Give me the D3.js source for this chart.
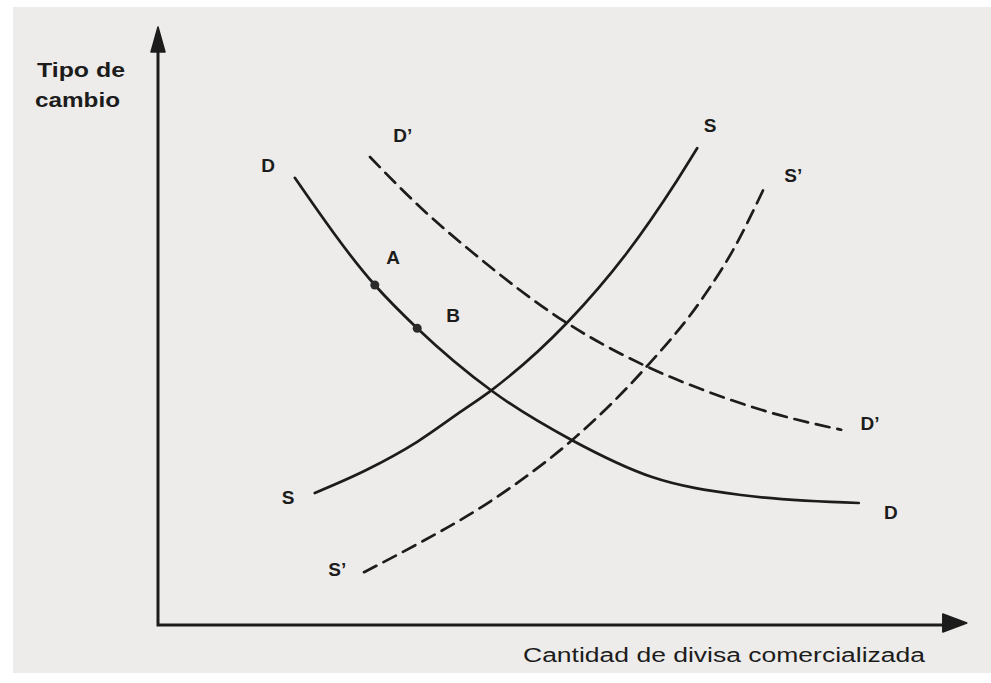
<!DOCTYPE html>
<html>
<head>
<meta charset="utf-8">
<script src="https://cdn.jsdelivr.net/npm/d3@7"></script>
<style>
  html, body { margin: 0; padding: 0; background: #fff; }
  svg { display: block; }
</style>
</head>
<body>
<div id="chart"></div>
<script>
// curves, x = cantidad, y = tipo de cambio (arbitrary units)
const demandD = [[17.1, 55.9], [27.1, 42.5], [32.4, 37.1], [41.75, 29.25], [51.75, 23.1], [61.75, 18.5], [72.9, 16.25], [87.6, 15.25]];
const demandD2 = [[26.5, 58.5], [32.75, 52.25], [39.4, 46.5], [51.1, 37.75], [60.9, 32.4], [68.1, 29.4], [76.75, 26.5], [85.4, 24.4]];
const supplyS = [[19.6, 16.5], [26.1, 19.4], [32.4, 22.9], [37.75, 26.6], [41.75, 29.4], [51.1, 37.75], [58.6, 46.5], [64.9, 55.6], [67.4, 59.6]];
const supplyS2 = [[25.75, 6.6], [32.4, 10.1], [38.6, 13.6], [44.4, 17.4], [51.75, 23.1], [60.9, 32.1], [68.1, 40.9], [71.9, 46.9], [75.9, 54.9]];

const points = [
  {name: "A", x: 27.1, y: 42.5},
  {name: "B", x: 32.4, y: 37.1}
];

const labels = [
  {text: "D", x: 13.75, y: 57.5},
  {text: "D\u2019", x: 30.6, y: 61.25},
  {text: "S", x: 69, y: 62.5},
  {text: "S\u2019", x: 79.4, y: 56.25},
  {text: "A", x: 29.4, y: 46},
  {text: "B", x: 36.9, y: 38.75},
  {text: "D\u2019", x: 89, y: 25.25},
  {text: "D", x: 91.6, y: 14.1},
  {text: "S", x: 16.25, y: 15.9},
  {text: "S\u2019", x: 22.4, y: 6.9}
];

const yTitle = ["Tipo de", "cambio"];
const xTitle = "Cantidad de divisa comercializada";

const width = 991;
const height = 683;

const svg = d3.select("#chart").append("svg")
  .attr("width", width)
  .attr("height", height)
  .attr("viewBox", [0, 0, width, height]);

// paper
svg.append("rect")
  .attr("x", 13).attr("y", 7)
  .attr("width", width - 13).attr("height", 666)
  .attr("fill", "#edecea");

const x = d3.scaleLinear().domain([0, 100]).range([158, 958]);
const y = d3.scaleLinear().domain([0, 75]).range([625, 25]);

const ink = "#1c1c1c";
const xEnd = 101.1, yEnd = 74.75;

// axes
svg.append("path")
  .attr("fill", "none")
  .attr("stroke", ink)
  .attr("stroke-width", 3)
  .attr("stroke-linejoin", "miter")
  .attr("d", `M${x(0)},${y(yEnd) + 10}V${y(0)}H${x(xEnd) - 10}`);

svg.append("path")
  .attr("fill", ink)
  .attr("stroke", ink)
  .attr("stroke-width", 1.5)
  .attr("stroke-linejoin", "round")
  .attr("d", `M${x(0)},${y(yEnd)}L${x(0) + 7},${y(yEnd) + 25}L${x(0) - 7},${y(yEnd) + 25}Z`);

svg.append("path")
  .attr("fill", ink)
  .attr("stroke", ink)
  .attr("stroke-width", 1.5)
  .attr("stroke-linejoin", "round")
  .attr("d", `M${x(xEnd)},${y(0) - 2}L${x(xEnd) - 24},${y(0) - 11}L${x(xEnd) - 24},${y(0) + 7}Z`);

const line = d3.line()
  .curve(d3.curveMonotoneX)
  .x(d => x(d[0]))
  .y(d => y(d[1]));

const curves = [
  {data: demandD, dash: null},
  {data: supplyS, dash: null},
  {data: demandD2, dash: "14,8"},
  {data: supplyS2, dash: "14,8"}
];

svg.append("g")
  .selectAll("path")
  .data(curves)
  .join("path")
    .attr("fill", "none")
    .attr("stroke", ink)
    .attr("stroke-width", 2.7)
    .attr("stroke-linecap", "round")
    .attr("stroke-dasharray", d => d.dash)
    .attr("d", d => line(d.data));

svg.append("g")
  .selectAll("circle")
  .data(points)
  .join("circle")
    .attr("cx", d => x(d.x))
    .attr("cy", d => y(d.y))
    .attr("r", 4.5)
    .attr("fill", "#2a2a2a");

svg.append("g")
  .attr("font-family", "Liberation Sans, Arial, sans-serif")
  .attr("font-weight", "bold")
  .attr("font-size", 19)
  .attr("fill", ink)
  .selectAll("text")
  .data(labels)
  .join("text")
    .attr("x", d => x(d.x))
    .attr("y", d => y(d.y))
    .attr("text-anchor", "middle")
    .attr("dominant-baseline", "central")
    .text(d => d.text);

svg.append("g")
  .attr("font-family", "Liberation Sans, Arial, sans-serif")
  .attr("font-weight", "bold")
  .attr("font-size", 20)
  .attr("fill", ink)
  .selectAll("text")
  .data(yTitle)
  .join("text")
    .attr("x", (d, i) => 37 - i * 2)
    .attr("y", (d, i) => 77 + i * 30)
    .attr("textLength", (d, i) => i ? 85 : 88)
    .attr("lengthAdjust", "spacingAndGlyphs")
    .text(d => d);

svg.append("text")
  .attr("x", 523)
  .attr("y", 662)
  .attr("font-family", "Liberation Sans, Arial, sans-serif")
  .attr("font-size", 20)
  .attr("fill", ink)
  .attr("textLength", 402)
  .attr("lengthAdjust", "spacingAndGlyphs")
  .text(xTitle);
</script>
</body>
</html>
